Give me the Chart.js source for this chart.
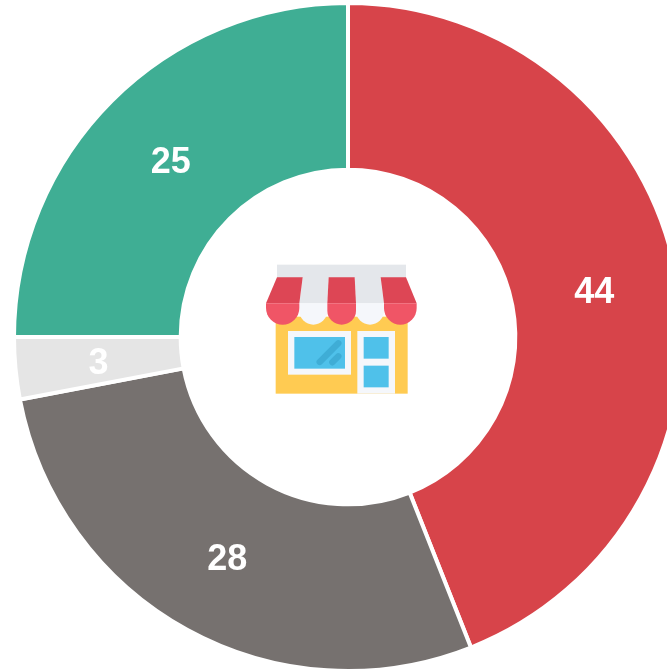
<!DOCTYPE html>
<html>
<head>
<meta charset="utf-8">
<script src="https://cdn.jsdelivr.net/npm/chart.js@4"></script>
<style>
html,body{margin:0;padding:0;background:#fff;overflow:hidden;width:667px;height:669px}
#wrap{position:relative;width:667px;height:669px;overflow:hidden}
#box{position:absolute;left:0;top:0;width:695px;height:675px}
#icon{position:absolute;left:250px;top:250px;width:180px;height:160px}
</style>
</head>
<body>
<div id="wrap">
<div id="box"><canvas id="c" width="695" height="675"></canvas></div>
<svg id="icon" viewBox="0 0 540 480" role="img" aria-label="shop">
  <rect x="77" y="200" width="396" height="231" fill="#ffcb52"/>
  <rect x="81" y="44" width="387" height="40" fill="#e4e7eb"/>
  <polygon points="158,82 236,82 232,160 148,160" fill="#e4e7eb"/>
  <polygon points="314,82 392,82 402,160 318,160" fill="#e4e7eb"/>
  <polygon points="81,82 158,82 148,160 48,160" fill="#dd4655"/>
  <polygon points="236,82 314,82 318,160 232,160" fill="#dd4655"/>
  <polygon points="392,82 468,82 500,160 402,160" fill="#dd4655"/>
  <path d="M148 160H232V182A42 42 0 0 1 148 182Z" fill="#f5f7fb"/>
  <path d="M318 160H402V182A42 42 0 0 1 318 182Z" fill="#f5f7fb"/>
  <path d="M48 160H148V174A50 50 0 0 1 48 174Z" fill="#f05566"/>
  <path d="M232 160H318V182A43 42 0 0 1 232 182Z" fill="#f05566"/>
  <path d="M402 160H500V174A49 50 0 0 1 402 174Z" fill="#f05566"/>
  <rect x="114" y="243" width="189" height="131" fill="#f5f7fb"/>
  <rect x="133" y="261" width="152" height="95" fill="#4fc1ea"/>
  <line x1="209" y1="336" x2="265" y2="280" stroke="#3fadd6" stroke-width="19" stroke-linecap="round"/>
  <line x1="247" y1="337" x2="265" y2="319" stroke="#3fadd6" stroke-width="19" stroke-linecap="round"/>
  <rect x="322" y="243" width="113" height="188" fill="#f5f7fb"/>
  <rect x="341" y="261" width="75" height="65" fill="#4fc1ea"/>
  <rect x="341" y="347" width="75" height="65" fill="#4fc1ea"/>
</svg>
</div>
<script>
const categories = ['A', 'B', 'C', 'D'];
const seriesValues = [44, 28, 3, 25];
const sliceColors = ['#d7444a', '#76716f', '#e5e5e5', '#3fae94'];

const valueLabels = {
  id: 'valueLabels',
  afterDatasetsDraw(chart) {
    const ctx = chart.ctx;
    const meta = chart.getDatasetMeta(0);
    ctx.save();
    ctx.font = 'bold 36px "Liberation Sans", Arial, sans-serif';
    ctx.fillStyle = '#ffffff';
    ctx.textAlign = 'center';
    ctx.textBaseline = 'middle';
    meta.data.forEach((arc, i) => {
      const p = arc.tooltipPosition();
      ctx.fillText(String(seriesValues[i]), p.x, p.y + 3);
    });
    ctx.restore();
  }
};

new Chart(document.getElementById('c'), {
  type: 'doughnut',
  data: {
    labels: categories,
    datasets: [{
      data: seriesValues,
      backgroundColor: sliceColors,
      borderColor: '#ffffff',
      borderWidth: 4
    }]
  },
  options: {
    responsive: false,
    animation: false,
    cutout: '50.1%',
    layout: { padding: { left: 1, right: 0, top: 1, bottom: 2 } },
    plugins: { legend: { display: false }, tooltip: { enabled: false } }
  },
  plugins: [valueLabels]
});
</script>
</body>
</html>
